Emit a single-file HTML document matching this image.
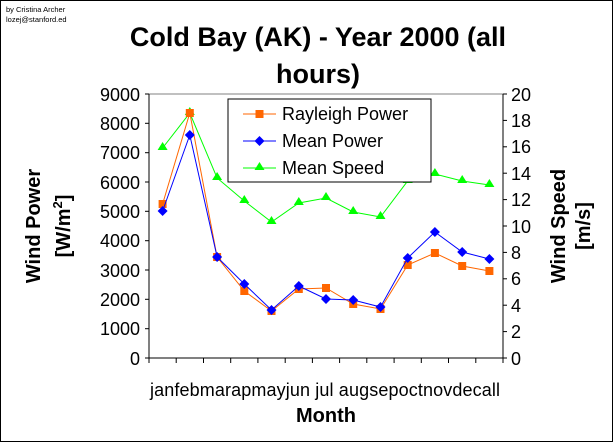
<!DOCTYPE html>
<html><head><style>body{margin:0;background:#fff}</style></head><body>
<svg width="613" height="442" xmlns="http://www.w3.org/2000/svg" font-family="Liberation Sans, Arial, sans-serif">
<rect x="0.5" y="0.5" width="612" height="441" fill="#fff" stroke="#000"/>
<text x="6" y="12" font-size="7.5">by Cristina Archer</text>
<text x="6" y="22" font-size="7.5">lozej@stanford.ed</text>
<text x="318" y="46" font-size="27" font-weight="bold" text-anchor="middle">Cold Bay (AK) - Year 2000 (all</text>
<text x="318" y="83" font-size="27" font-weight="bold" text-anchor="middle">hours)</text>
<line x1="149" y1="94" x2="503" y2="94" stroke="#808080"/>
<g stroke="#000" stroke-width="1">
<line x1="149" y1="94" x2="149" y2="358"/><line x1="503" y1="94" x2="503" y2="358"/><line x1="145" y1="358" x2="507" y2="358"/>
<line x1="145" y1="94" x2="149" y2="94"/><line x1="145" y1="123.3" x2="149" y2="123.3"/><line x1="145" y1="152.7" x2="149" y2="152.7"/><line x1="145" y1="182" x2="149" y2="182"/><line x1="145" y1="211.3" x2="149" y2="211.3"/><line x1="145" y1="240.7" x2="149" y2="240.7"/><line x1="145" y1="270" x2="149" y2="270"/><line x1="145" y1="299.3" x2="149" y2="299.3"/><line x1="145" y1="328.7" x2="149" y2="328.7"/>
<line x1="503" y1="94" x2="507" y2="94"/><line x1="503" y1="120.4" x2="507" y2="120.4"/><line x1="503" y1="146.8" x2="507" y2="146.8"/><line x1="503" y1="173.2" x2="507" y2="173.2"/><line x1="503" y1="199.6" x2="507" y2="199.6"/><line x1="503" y1="226" x2="507" y2="226"/><line x1="503" y1="252.4" x2="507" y2="252.4"/><line x1="503" y1="278.8" x2="507" y2="278.8"/><line x1="503" y1="305.2" x2="507" y2="305.2"/><line x1="503" y1="331.6" x2="507" y2="331.6"/>
<path d="M176.2 358v5M203.5 358v5M230.7 358v5M257.9 358v5M285.2 358v5M312.4 358v5M339.6 358v5M366.8 358v5M394.1 358v5M421.3 358v5M448.5 358v5M475.8 358v5M149 358v5M503 358v5"/>
</g>
<g font-size="18" text-anchor="end">
<text x="140" y="101">9000</text><text x="140" y="130">8000</text><text x="140" y="159">7000</text><text x="140" y="189">6000</text><text x="140" y="218">5000</text><text x="140" y="247">4000</text><text x="140" y="277">3000</text><text x="140" y="306">2000</text><text x="140" y="335">1000</text><text x="140" y="365">0</text>
</g>
<g font-size="18">
<text x="511" y="101">20</text><text x="511" y="127">18</text><text x="511" y="153">16</text><text x="511" y="180">14</text><text x="511" y="206">12</text><text x="511" y="233">10</text><text x="511" y="259">8</text><text x="511" y="285">6</text><text x="511" y="312">4</text><text x="511" y="338">2</text><text x="511" y="365">0</text>
</g>
<text x="150" y="396" font-size="18" textLength="350">janfebmarapmayjun jul augsepoctnovdecall</text>
<text x="326" y="422" font-size="20" font-weight="bold" text-anchor="middle">Month</text>
<text transform="translate(40,226) rotate(-90)" font-size="20" font-weight="bold" text-anchor="middle">Wind Power</text>
<text transform="translate(70,226) rotate(-90)" font-size="20" font-weight="bold" text-anchor="middle">[W/m<tspan font-size="13" dy="-8">2</tspan><tspan dy="8">]</tspan></text>
<text transform="translate(565,226) rotate(-90)" font-size="20" font-weight="bold" text-anchor="middle">Wind Speed</text>
<text transform="translate(590,226) rotate(-90)" font-size="20" font-weight="bold" text-anchor="middle">[m/s]</text>
<polyline fill="none" stroke="#00ff00" points="162.6,148 189.8,113 217.1,178 244.3,201 271.5,222 298.8,203 326,198 353.2,212 380.5,217 407.7,181 434.9,174 462.2,181 489.4,185"/>
<g fill="#00ff00"><path d="M162.6,142l5,8h-10z M189.8,107l5,8h-10z M217.1,172l5,8h-10z M244.3,195l5,8h-10z M271.5,216l5,8h-10z M298.8,197l5,8h-10z M326,192l5,8h-10z M353.2,206l5,8h-10z M380.5,211l5,8h-10z M407.7,175l5,8h-10z M434.9,168l5,8h-10z M462.2,175l5,8h-10z M489.4,179l5,8h-10z"/></g>
<polyline fill="none" stroke="#ff6600" points="162.6,204 189.8,113 217.1,257 244.3,291 271.5,311 298.8,289 326,288 353.2,304 380.5,309 407.7,265 434.9,253 462.2,266 489.4,271"/>
<g fill="#ff6600"><rect x="158.6" y="200" width="8" height="8"/><rect x="185.8" y="109" width="8" height="8"/><rect x="213.1" y="253" width="8" height="8"/><rect x="240.3" y="287" width="8" height="8"/><rect x="267.5" y="307" width="8" height="8"/><rect x="294.8" y="285" width="8" height="8"/><rect x="322" y="284" width="8" height="8"/><rect x="349.2" y="300" width="8" height="8"/><rect x="376.5" y="305" width="8" height="8"/><rect x="403.7" y="261" width="8" height="8"/><rect x="430.9" y="249" width="8" height="8"/><rect x="458.2" y="262" width="8" height="8"/><rect x="485.4" y="267" width="8" height="8"/></g>
<polyline fill="none" stroke="#0000ff" points="162.6,211 189.8,135 217.1,257 244.3,284 271.5,310 298.8,286 326,299 353.2,300 380.5,307 407.7,258 434.9,232 462.2,252 489.4,259"/>
<g fill="#0000ff"><path d="M162.6,206l5,5-5,5-5-5z M189.8,130l5,5-5,5-5-5z M217.1,252l5,5-5,5-5-5z M244.3,279l5,5-5,5-5-5z M271.5,305l5,5-5,5-5-5z M298.8,281l5,5-5,5-5-5z M326,294l5,5-5,5-5-5z M353.2,295l5,5-5,5-5-5z M380.5,302l5,5-5,5-5-5z M407.7,253l5,5-5,5-5-5z M434.9,227l5,5-5,5-5-5z M462.2,247l5,5-5,5-5-5z M489.4,254l5,5-5,5-5-5z"/></g>
<rect x="228" y="99" width="203" height="83" fill="#fff" stroke="#000"/>
<line x1="243" y1="114" x2="276" y2="114" stroke="#ff6600"/><rect x="255.5" y="110" width="8" height="8" fill="#ff6600"/>
<line x1="243" y1="141" x2="276" y2="141" stroke="#0000ff"/><path d="M259.5,136l5,5-5,5-5-5z" fill="#0000ff"/>
<line x1="243" y1="168" x2="276" y2="168" stroke="#00ff00"/><path d="M259.5,162l5,8h-10z" fill="#00ff00"/>
<g font-size="18"><text x="282" y="120">Rayleigh Power</text><text x="282" y="147">Mean Power</text><text x="282" y="174">Mean Speed</text></g>
</svg>
</body></html>
